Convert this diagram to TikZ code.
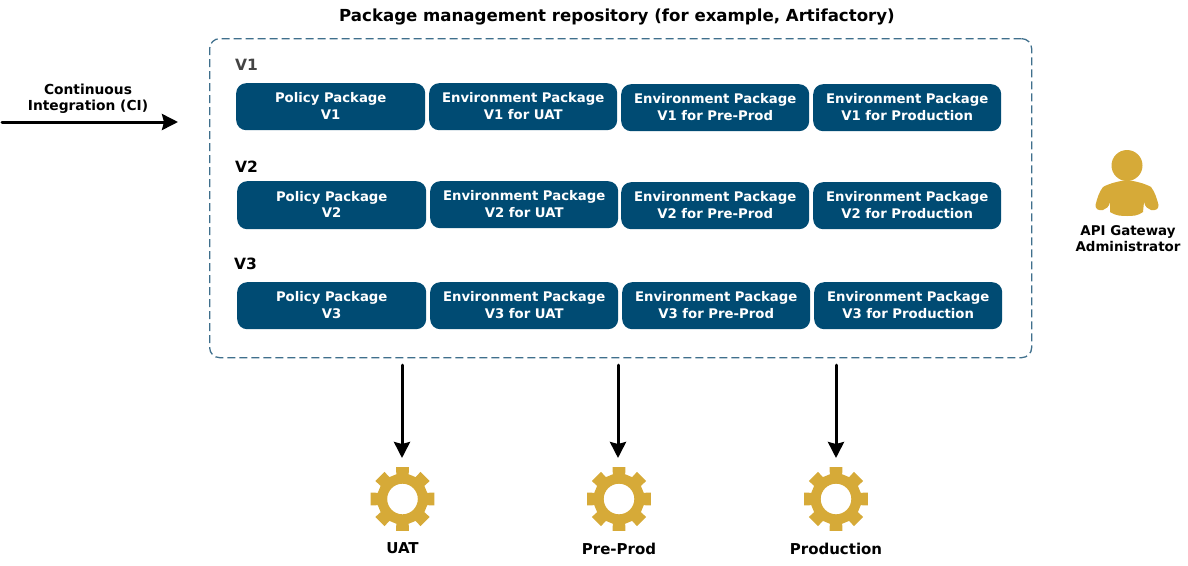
\documentclass[tikz,border=0pt]{standalone}
\usepackage{fontspec}
\setmainfont{DejaVu Sans}
\usetikzlibrary{arrows.meta,calc}
\definecolor{pkgblue}{HTML}{004B73}
\definecolor{gold}{HTML}{D6AA38}
\definecolor{framec}{HTML}{3F6F8C}
\definecolor{vgrey}{HTML}{444444}
\tikzset{
  x=1pt,y=-1pt,
  pkg/.style={fill=pkgblue,draw=none,rounded corners=10pt,text=white,font=\fontsize{13.25}{16}\selectfont\bfseries,align=center,inner sep=0pt,anchor=north west},
  lbl/.style={font=\fontsize{13.4}{16}\selectfont\bfseries,align=center,inner sep=0pt},
  big/.style={font=\fontsize{15}{18}\selectfont\bfseries,inner sep=0pt},
  ver/.style={font=\fontsize{15.5}{18}\selectfont\bfseries,inner sep=0pt,anchor=west},
  flow/.style={draw=black,line width=3pt,line cap=round,-{Stealth[length=16pt,width=16pt,inset=2pt]}},
  anchorpt/.style={circle,minimum size=1pt,inner sep=0pt,draw=none},
}
\newcommand{\pkgbox}[7]{\node[pkg,minimum width=#3pt,minimum height=#4pt] (#5) at (#1,#2) {\raisebox{1.5pt}{\shortstack{#6\\[1.2pt]#7}}};}
\newcommand{\gearshape}[2]{%
  \fill[gold,even odd rule]
   \foreach \k in {0,...,7}{
     \ifnum\k=0 (#1,#2) ++({-90-11.5}:32.5)\else -- ($(#1,#2)+({-90-11.5+45*\k}:32.5)$)\fi
     -- ($(#1,#2)+({-90+11.5+45*\k}:32.5)$)
     -- ($(#1,#2)+({-90+14+45*\k}:25.5)$)
     -- ($(#1,#2)+({-90+31+45*\k}:25.5)$)
   } -- cycle
   (#1,#2) circle[radius=15.3pt];}
\begin{document}
\begin{tikzpicture}
\useasboundingbox (0,0) rectangle (1188,565);
\node[font=\fontsize{16.6}{20}\selectfont\bfseries,inner sep=0pt] (title) at (617,16.5) {Package management repository (for example, Artifactory)};
\node[draw=framec,line width=1.3pt,dash pattern=on 8pt off 4pt,rounded corners=10pt,minimum width=822pt,minimum height=319pt,inner sep=0pt,anchor=north west] (frame) at (209,38) {};
\node[ver,text=vgrey] (v1) at (235,65) {V1};
\node[ver] (v2) at (235,167) {V2};
\node[ver] (v3) at (234,264) {V3};
\pkgbox{236}{83}{189}{47}{a1}{Policy Package}{V1}
\pkgbox{429}{83}{188}{47}{a2}{Environment Package}{V1 for UAT}
\pkgbox{621}{84}{188}{47}{a3}{Environment Package}{V1 for Pre-Prod}
\pkgbox{813}{84}{188}{47}{a4}{Environment Package}{V1 for Production}
\pkgbox{237}{181}{189}{48}{b1}{Policy Package}{V2}
\pkgbox{430}{181}{188}{47}{b2}{Environment Package}{V2 for UAT}
\pkgbox{621}{182}{188}{47}{b3}{Environment Package}{V2 for Pre-Prod}
\pkgbox{813}{182}{188}{47}{b4}{Environment Package}{V2 for Production}
\pkgbox{237}{282}{189}{47}{c1}{Policy Package}{V3}
\pkgbox{430}{282}{188}{47}{c2}{Environment Package}{V3 for UAT}
\pkgbox{622}{282}{188}{47}{c3}{Environment Package}{V3 for Pre-Prod}
\pkgbox{814}{282}{188}{47}{c4}{Environment Package}{V3 for Production}
\node[lbl,font=\fontsize{13.8}{16}\selectfont\bfseries] (ci) at (88,98.5) {Continuous\\Integration (CI)};
\coordinate (cistart) at (2,122);
\coordinate (ciend) at (178,122);
\draw[flow] (cistart) -- (ciend);
\gearshape{402.5}{499}
\gearshape{619}{499}
\gearshape{836}{499}
\node[anchorpt] (guat) at (402,458) {};
\node[anchorpt] (gpre) at (618,458) {};
\node[anchorpt] (gprod) at (836,458) {};
\coordinate (suat) at (402,365);
\coordinate (spre) at (618,365);
\coordinate (sprod) at (836,365);
\draw[flow] (suat) -- (guat.center);
\draw[flow] (spre) -- (gpre.center);
\draw[flow] (sprod) -- (gprod.center);
\node[big] (uat) at (402.5,548.5) {UAT};
\node[big] (pre) at (619,548.5) {Pre-Prod};
\node[big] (prod) at (836,548.5) {Production};
\fill[gold] (1127,165.5) circle[radius=15.5pt];
\fill[gold] (1127,180) .. controls (1120,181) and (1110,183) .. (1103,187)
  .. controls (1099,192) and (1097,199) .. (1095.5,205)
  .. controls (1095,209) and (1099,211) .. (1103,210)
  .. controls (1106,209) and (1109,207) .. (1110,202)
  -- (1110,212) .. controls (1116,216) and (1122,216) .. (1127,216)
  .. controls (1132,216) and (1138,216) .. (1143,212)
  -- (1144,202)
  .. controls (1145,207) and (1148,209) .. (1151,210)
  .. controls (1155,211) and (1159,209) .. (1158.5,205)
  .. controls (1157,199) and (1155,192) .. (1151,187)
  .. controls (1144,183) and (1134,181) .. (1127,180) -- cycle;
\node[lbl] (admin) at (1128,239) {API Gateway\\Administrator};
\end{tikzpicture}
\end{document}
